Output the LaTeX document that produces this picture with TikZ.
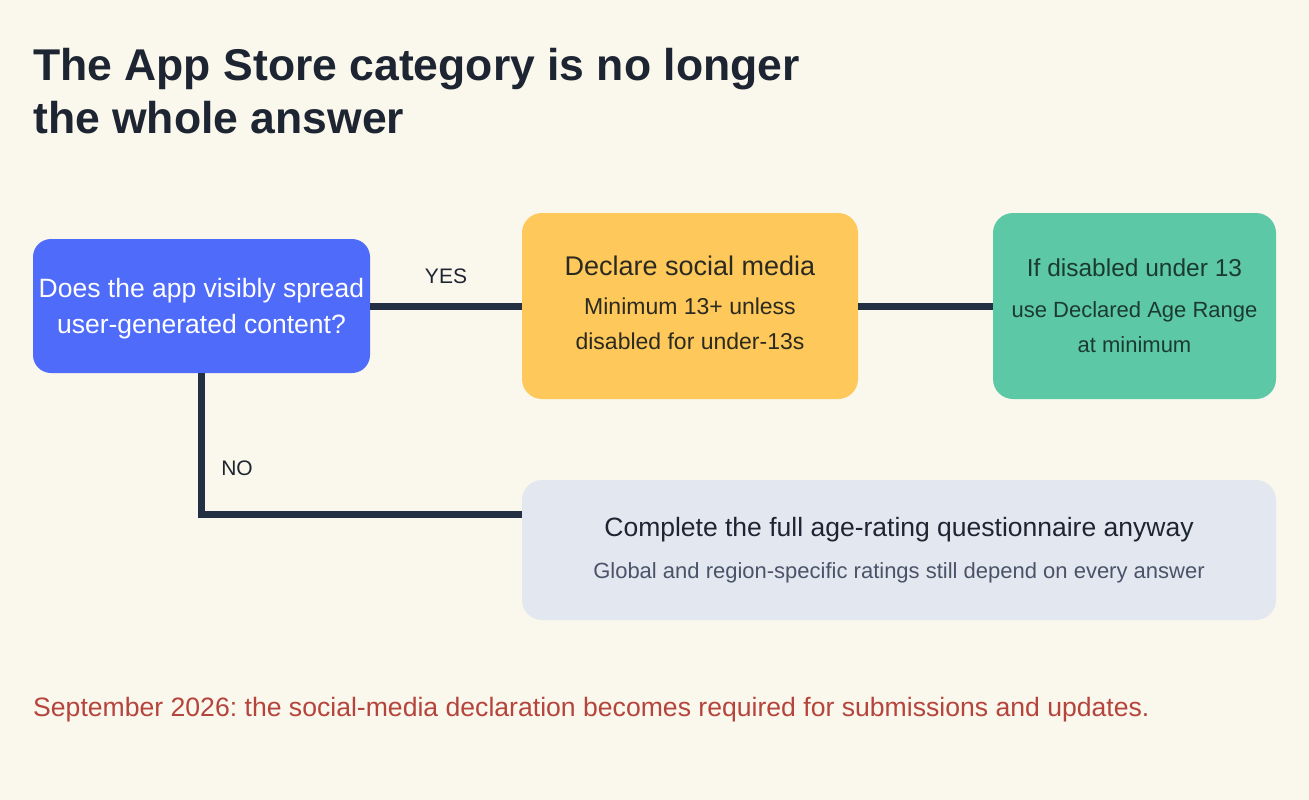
\documentclass[tikz,border=0pt]{standalone}
\usepackage{fontspec}
\setmainfont{Liberation Sans}
\usetikzlibrary{calc}
\frenchspacing
\definecolor{paper}{HTML}{FAF7EC}
\definecolor{ink}{HTML}{1E2532}
\definecolor{qblue}{HTML}{4F6BFA}
\definecolor{socyellow}{HTML}{FEC85A}
\definecolor{agegreen}{HTML}{5DC8A5}
\definecolor{fullgray}{HTML}{E3E7F0}
\definecolor{wire}{HTML}{233044}
\definecolor{note}{HTML}{B5443D}
\definecolor{yink}{HTML}{2B2A20}
\definecolor{gink}{HTML}{1B3B30}
\definecolor{subink}{HTML}{4A5468}
\tikzset{
  card/.style={rounded corners=20pt, inner sep=0pt, align=center},
  wire/.style={draw=wire, line width=7pt},
  tag/.style={text=ink, inner sep=0pt, font=\fontsize{21}{25}\selectfont},
}

\begin{document}
\begin{tikzpicture}[x=1pt,y=-1pt]
        \fill[paper] (0,0) rectangle (1309,800);
        \useasboundingbox (0,0) rectangle (1309,800);
        % title
        \node[anchor=north west, inner sep=0pt, align=left, text=ink,
              font=\fontsize{44.5}{53}\selectfont\bfseries] (title) at (33,48)
              {The App Store category is no longer\\the whole answer};
        % boxes
        \node[card, rounded corners=18pt, fill=qblue, text=white, minimum width=337pt, minimum height=134pt,
              font=\fontsize{26.5}{36}\selectfont] (ugc) at (201.5,306)
              {\rule{0pt}{25pt}Does the app visibly spread\\user-generated content?};
        \node[card, fill=socyellow, text=yink, minimum width=336pt, minimum height=186pt,
              font=\fontsize{23}{35}\selectfont] (social) at (690,306)
              {{\fontsize{27}{35}\selectfont Declare social media}\\[4pt]Minimum 13+ unless\\disabled for under-13s\rule[-6pt]{0pt}{0pt}};
        \node[card, fill=agegreen, text=gink, minimum width=283pt, minimum height=186pt,
              font=\fontsize{22}{35}\selectfont] (agerange) at (1134.5,306)
              {{\fontsize{24.5}{35}\selectfont If disabled under 13}\\[6pt]use Declared Age Range\\at minimum};
        \node[card, fill=fullgray, text=ink, minimum width=754pt, minimum height=140pt,
              font=\fontsize{22}{30}\selectfont] (full) at (899,550)
              {{\fontsize{26.5}{30}\selectfont Complete the full age-rating questionnaire anyway}\\[12pt]
               \textcolor{subink}{Global and region-specific ratings still depend on every answer}};
        % connectors
        \coordinate (noend) at ($(full.north west)!0.25!(full.south west)$);
        \draw[wire] (ugc.east) -- (social.west);
        \draw[wire] (social.east) -- (agerange.west);
        \draw[wire] (ugc.south) |- (noend);
        \node[tag] (yes) at (446,276) {YES};
        \node[tag] (no) at (237,468) {NO};
        % footer
        \node[anchor=base west, inner sep=0pt, text=note, font=\fontsize{26.6}{30}\selectfont] (deadline) at (33,716)
              {September 2026: the social-media declaration becomes required for submissions and updates.};
    \end{tikzpicture}
\end{document}
